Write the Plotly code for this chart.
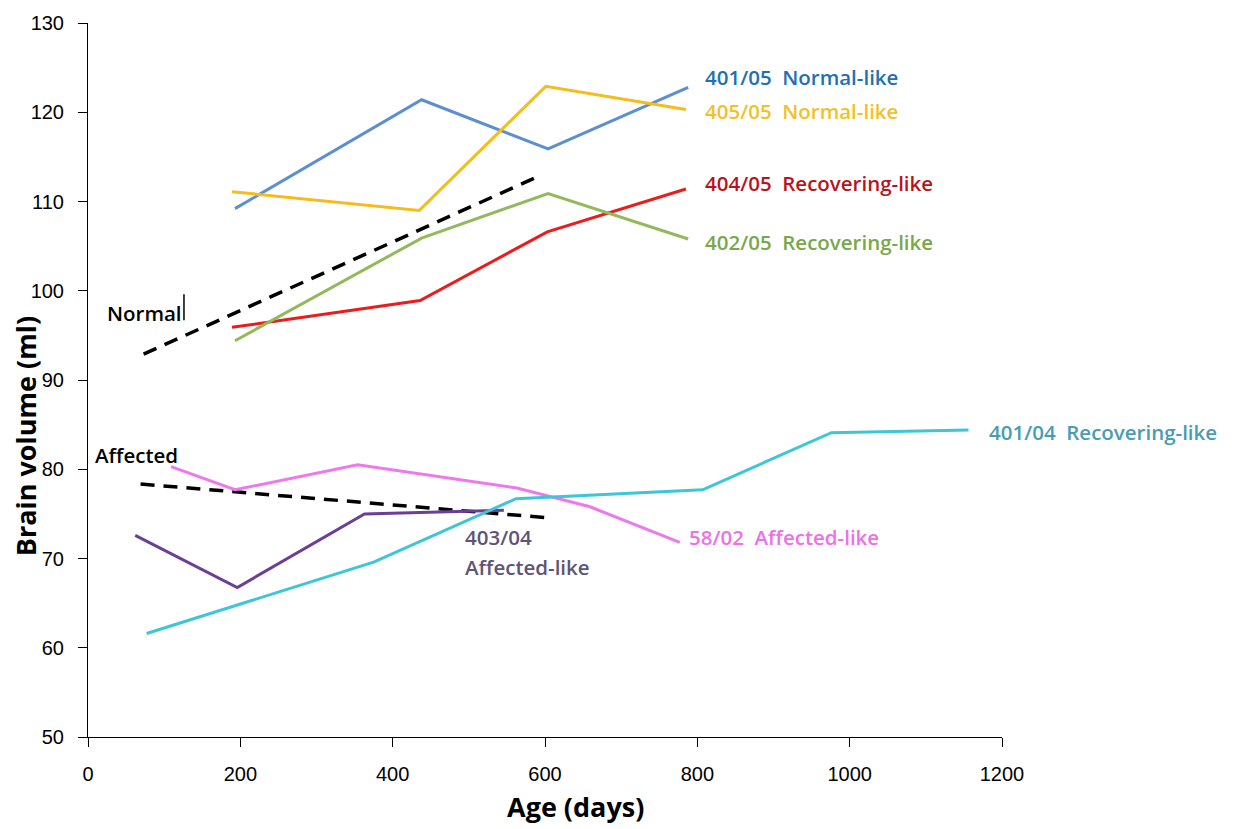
import plotly.graph_objects as go

# ---- data ----
blue_x = [193, 438, 604, 788]
blue_y = [109.2, 121.4, 115.9, 122.8]
yellow_x = [189, 435, 601, 785]
yellow_y = [111.1, 109.0, 122.9, 120.3]
red_x = [189, 436, 603, 785]
red_y = [95.9, 98.9, 106.6, 111.4]
green_x = [193, 438, 604, 788]
green_y = [94.4, 105.9, 110.9, 105.8]
normal_x = [73, 596]
normal_y = [92.9, 113.0]
affected_x = [69, 605]
affected_y = [78.35, 74.55]
pink_x = [109, 193, 354, 563, 659, 777]
pink_y = [80.3, 77.7, 80.5, 77.9, 75.8, 71.8]
purple_x = [62, 196, 363, 546]
purple_y = [72.6, 66.75, 75.0, 75.4]
cyan_x = [77, 375, 562, 807, 976, 1156]
cyan_y = [61.6, 69.6, 76.7, 77.7, 84.1, 84.4]

x_ticks = [0, 200, 400, 600, 800, 1000, 1200]
y_ticks = [50, 60, 70, 80, 90, 100, 110, 120, 130]

series = [
    (blue_x, blue_y, "#5B8FD2", "solid", 3),
    (yellow_x, yellow_y, "#F6BC1C", "solid", 3),
    (red_x, red_y, "#EC1C1C", "solid", 3),
    (green_x, green_y, "#93B95C", "solid", 3),
    (normal_x, normal_y, "#000000", "14px,9px", 3.5),
    (affected_x, affected_y, "#000000", "14px,9px", 3.5),
    (pink_x, pink_y, "#EE78EE", "solid", 3),
    (purple_x, purple_y, "#6B3F98", "solid", 3),
    (cyan_x, cyan_y, "#3CC6D8", "solid", 3),
]

fig = go.Figure()
for xs, ys, col, dash, w in series:
    fig.add_trace(go.Scatter(x=xs, y=ys, mode="lines",
                             line=dict(color=col, width=w, dash=dash),
                             showlegend=False, hoverinfo="skip"))

lab_font = "Open Sans, Lato, sans-serif"
labels = [
    ("401/05&nbsp; Normal-like", 808, 124.0, "#2070B4"),
    ("405/05&nbsp; Normal-like", 808, 120.15, "#F2C12A"),
    ("404/05&nbsp; Recovering-like", 808, 112.05, "#B81420"),
    ("402/05&nbsp; Recovering-like", 808, 105.5, "#78A848"),
    ("Normal", 22, 97.55, "#000000"),
    ("Affected", 6, 81.6, "#000000"),
    ("403/04", 492, 72.4, "#5E5478"),
    ("Affected-like", 492, 69.0, "#5E5478"),
    ("58/02&nbsp; Affected-like", 787, 72.4, "#EC70EC"),
    ("401/04&nbsp; Recovering-like", 1180, 84.2, "#4A9CB2"),
]
for txt, x, y, col in labels:
    fig.add_annotation(x=x, y=y, xref="x", yref="y", text=txt, showarrow=False,
                       xanchor="left", yanchor="middle", align="left",
                       font=dict(family=lab_font, size=20.5, color=col, weight=600))

# cursor-like bar after "Normal"
fig.add_shape(type="line", xref="x", yref="y", x0=126, x1=126, y0=96.7, y1=99.6,
              line=dict(color="#000000", width=1.5))

# axis titles
fig.add_annotation(x=(575 - 88) / 914, y=-0.098,
                   xref="paper", yref="paper", text="<b>Age (days)</b>", showarrow=False,
                   xanchor="center", yanchor="middle",
                   font=dict(family=lab_font, size=27, color="#000000"))
fig.add_annotation(x=-(88 - 25) / 914, y=(737 - 435) / 717,
                   xref="paper", yref="paper", text="<b>Brain volume (ml)</b>", showarrow=False,
                   textangle=-90, xanchor="center", yanchor="middle",
                   font=dict(family=lab_font, size=27, color="#000000"))

fig.update_layout(
    width=1250, height=829,
    margin=dict(l=88, r=248, t=20, b=92),
    plot_bgcolor="white", paper_bgcolor="white",
    font=dict(family="Liberation Sans, Arial, sans-serif", size=20, color="#000000"),
)
fig.update_xaxes(range=[0, 1200], tickvals=x_ticks, showgrid=False, zeroline=False,
                 showline=True, linecolor="#000000", linewidth=1,
                 ticks="outside", ticklen=9, tickcolor="#000000", tickwidth=1,
                 ticklabelstandoff=10)
fig.update_yaxes(range=[50, 130], tickvals=y_ticks, showgrid=False, zeroline=False,
                 showline=True, linecolor="#000000", linewidth=1,
                 ticks="outside", ticklen=9, tickcolor="#000000", tickwidth=1,
                 ticklabelstandoff=10)

fig.write_html("out.html")
